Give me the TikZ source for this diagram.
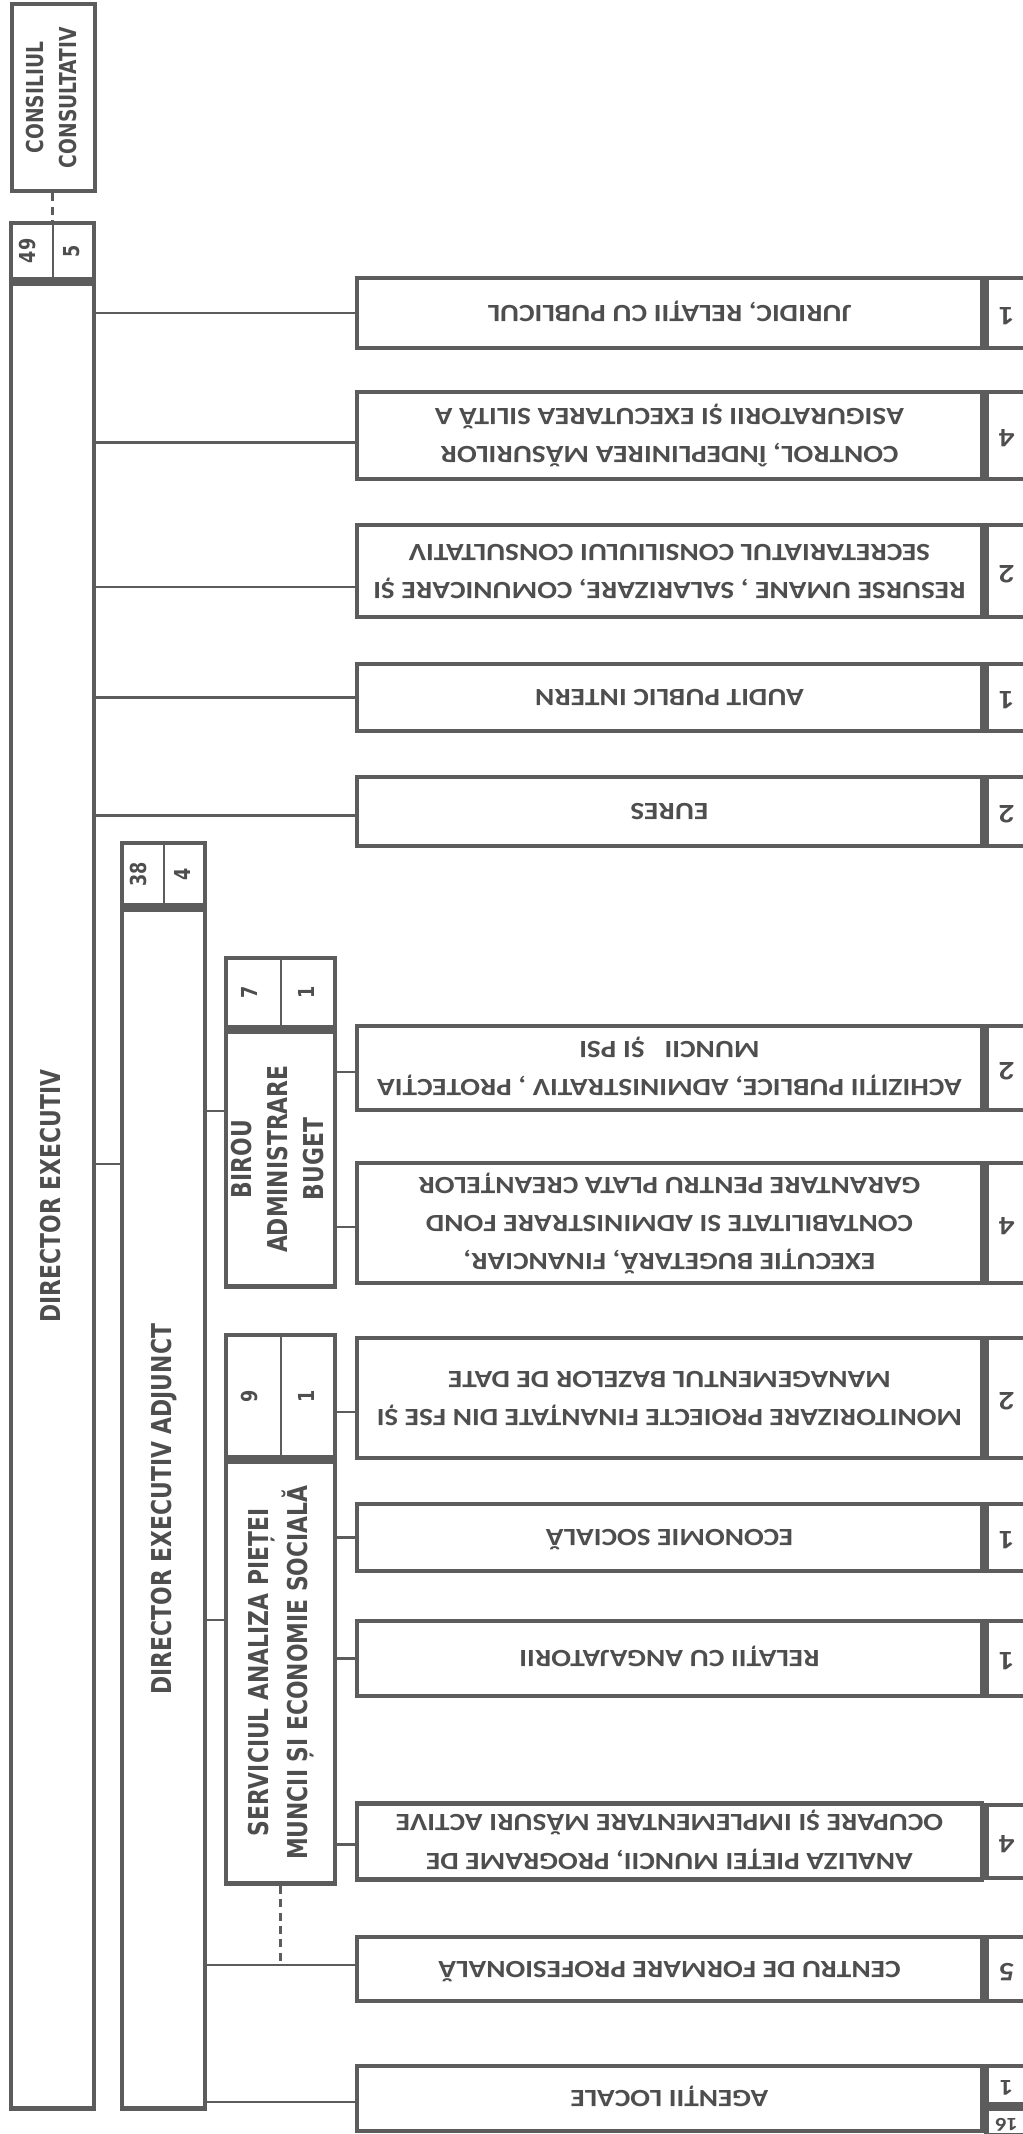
\documentclass[tikz,border=0pt]{standalone}
\usepackage{fontspec}
\usepackage{graphicx}
\usetikzlibrary{calc}

% Schriften: links breit und gestaucht, rechts schmal und gestreckt
\newfontfamily\lfont[FakeStretch=0.8]{DejaVu Sans}
\newfontfamily\rfont[FakeStretch=1.18]{Carlito}

\definecolor{ink}{HTML}{4E4E4E}
\definecolor{rahmen}{HTML}{5C5C5C}

% Text hochkant (links) bzw. auf dem Kopf (rechts)
\newcommand{\turn}[1]{\rotatebox{90}{\begin{tabular}{@{}c@{}}#1\end{tabular}}}
\newcommand{\flip}[1]{\rotatebox{180}{\begin{tabular}{@{}c@{}}#1\end{tabular}}}

\tikzset{
    kasten/.style={draw=rahmen, line width=3.5pt, inner sep=0pt, text=ink},
    kopf/.style={kasten},
    leitung/.style={kasten, font=\lfont\bfseries\fontsize{20.5}{29}\selectfont},
    zahl/.style={inner sep=0pt, text=ink, font=\lfont\bfseries\fontsize{16.5}{20}\selectfont},
    abteilung/.style={kasten, minimum width=468.75pt, font=\rfont\bfseries\fontsize{18.6}{28.7}\selectfont},
    numcell/.style={kasten, minimum width=30pt, font=\rfont\bfseries\fontsize{20}{22}\selectfont},
    link/.style={draw=rahmen, line width=2pt},
    trenner/.style={draw=rahmen, line width=1.5pt},
    hilfslinie/.style={draw=rahmen, line width=2pt, dash pattern=on 6pt off 4pt}
}

\begin{document}
\begin{tikzpicture}[x=0.75pt, y=-0.75pt]
    \useasboundingbox (0,0) rectangle (1022,2134);

    % Leitung (linke Spalten)
    \node[leitung, font=\lfont\bfseries\fontsize{17.5}{24.75}\selectfont, minimum width=62.25pt, minimum height=140.25pt] (consiliul) at (53.5,97.5) {\turn{CONSILIUL\\CONSULTATIV}};
    \node[kopf, minimum width=62.25pt, minimum height=42pt] (dirhead) at (52.5,251) {};
    \node[leitung, minimum width=62.25pt, minimum height=1368.75pt, anchor=north] (dir) at (dirhead.south) {\turn{DIRECTOR EXECUTIV}};
    \node[kopf, minimum width=62.25pt, minimum height=46.5pt] (adjhead) at (163.5,874) {};
    \node[leitung, minimum width=62.25pt, minimum height=899.25pt, anchor=north] (adj) at (adjhead.south) {\turn{DIRECTOR EXECUTIV ADJUNCT}};
    \node[kopf, minimum width=81.75pt, minimum height=51.75pt] (birohead) at (280.5,992.5) {};
    \node[leitung, font=\lfont\bfseries\fontsize{20.5}{27}\selectfont, minimum width=81.75pt, minimum height=191.25pt, anchor=north] (biro) at (birohead.south) {\turn{BIROU\\ADMINISTRARE\\BUGET}};
    \node[kopf, minimum width=81.75pt, minimum height=91.5pt] (servhead) at (280.5,1396) {};
    \node[leitung, minimum width=81.75pt, minimum height=316.5pt, anchor=north] (serv) at (servhead.south) {\turn{SERVICIUL ANALIZA PIEȚEI\\MUNCII ȘI ECONOMIE SOCIALĂ}};

    % Kopfzeilen mit Stellenzahlen
    \foreach \kopf/\links/\rechts in {dirhead/49/5, adjhead/38/4, birohead/7/1, servhead/9/1}
        {
            \draw[trenner] (\kopf.north) -- (\kopf.south);
            \node[zahl] (\kopf-a) at ($(\kopf.west)!0.5!(\kopf.center)$) {\turn{\links}};
            \node[zahl] (\kopf-b) at ($(\kopf.center)!0.5!(\kopf.east)$) {\turn{\rechts}};
        }

    % Verbindungen zwischen den Leitungsebenen
    \draw[hilfslinie] (dirhead.north |- consiliul.south) -- (dirhead.north);
    \coordinate (adj-tap) at (adj.west |- 0,1164);
    \draw[link] (adj-tap) -- (adj-tap -| dir.east);
    \coordinate (biro-tap) at (biro.west |- 0,1111);
    \draw[link] (biro-tap) -- (biro-tap -| adj.east);
    \coordinate (serv-tap) at (serv.west |- 0,1620);
    \draw[link] (serv-tap) -- (serv-tap -| adj.east);

    % Abteilungen rechts: Name/Vorgesetzter/y-Mitte/Hoehe/Stellen/Versatz/Text
    \foreach \name/\parent/\yc/\h/\n/\dy/\txt in {
        juridic/dir/313/70/1/0/{JURIDIC, RELAȚII CU PUBLICUL},
        control/dir/435.5/87/4/-5/{CONTROL, ÎNDEPLINIREA MĂSURILOR\\ASIGURATORII ȘI EXECUTAREA SILITĂ A},
        resurse/dir/571/92/2/-12/{RESURSE UMANE , SALARIZARE, COMUNICARE ȘI\\SECRETARIATUL CONSILIULUI CONSULTATIV},
        audit/dir/697.5/67/1/0/{AUDIT PUBLIC INTERN},
        eures/dir/811.5/69/2/-3/{EURES},
        achizitii/biro/1068/84/2/-3/{ACHIZIȚII PUBLICE, ADMINISTRATIV , PROTECȚIA\\MUNCII \ \ ȘI PSI},
        executie/biro/1223/120/4/-3/{EXECUȚIE BUGETARĂ, FINANCIAR,\\CONTABILITATE SI ADMINISTRARE FOND\\GARANTARE PENTRU PLATA CREANȚELOR},
        monitor/serv/1398/120/2/-10.5/{MONITORIZARE PROIECTE FINANȚATE DIN FSE ȘI\\MANAGEMENTUL BAZELOR DE DATE},
        economie/serv/1537.5/67/1/0/{ECONOMIE SOCIALĂ},
        relatii/serv/1658.5/75/1/0/{RELAȚII CU ANGAJATORII},
        analiza/serv/1841.5/73/4/-2/{ANALIZA PIEȚEI MUNCII, PROGRAME DE\\OCUPARE ȘI IMPLEMENTARE MĂSURI ACTIVE},
        centru/adj/1969/64/5/3/{CENTRU DE FORMARE PROFESIONALĂ}}
        {
            \node[abteilung, minimum height=\h*0.75pt] (\name) at (669.5,\yc) {\flip{\txt}};
            \node[numcell, minimum height=\h*0.75pt, anchor=west] (\name-n) at (\name.east) {\flip{\n}};
            \coordinate (\name-tap) at ([yshift=\dy pt]\name.west);
            \draw[link] (\name-tap) -- (\name-tap -| \parent.east);
        }

    % Agentii locale mit geteiltem Zahlenfeld
    \node[abteilung, minimum height=48.75pt] (agentii) at (669.5,2098.5) {\flip{AGENȚII LOCALE}};
    \node[numcell, font=\rfont\bfseries\fontsize{17}{18}\selectfont, minimum height=28.5pt, anchor=north west] (agentii-n) at (agentii.north east) {\flip{1}};
    \node[numcell, font=\rfont\bfseries\fontsize{14}{14}\selectfont, minimum height=20.25pt, anchor=north west] (agentii-m) at (agentii-n.south west) {\flip{16}};
    \coordinate (agentii-tap) at ([yshift=-2.5pt]agentii.west);
    \draw[link] (agentii-tap) -- (agentii-tap -| adj.east);

    % gestrichelte Linie Serviciu -- Centru
    \draw[hilfslinie] (serv.south) -- (serv.south |- centru-tap);

\end{tikzpicture}
\end{document}
